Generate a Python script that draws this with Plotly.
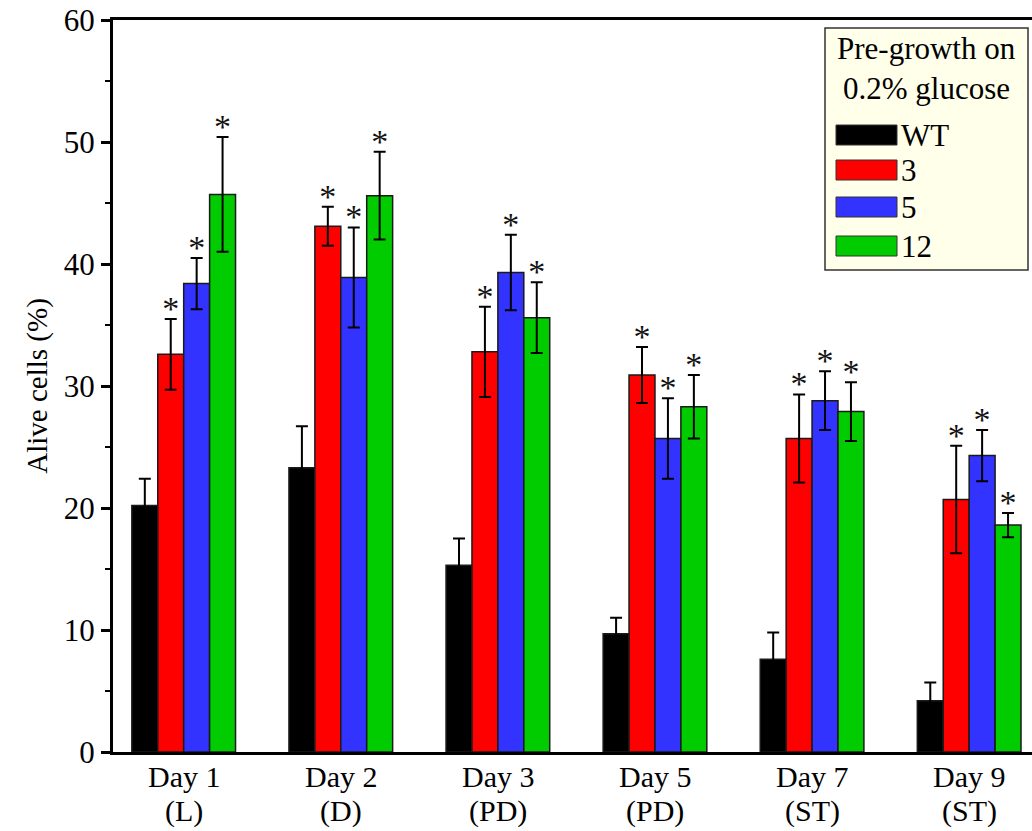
import plotly.graph_objects as go

days = ["Day 1", "Day 2", "Day 3", "Day 5", "Day 7", "Day 9"]
phases = ["(L)", "(D)", "(PD)", "(PD)", "(ST)", "(ST)"]
series_names = ["WT", "3", "5", "12"]
colors = ["#000000", "#FF0000", "#3333FF", "#00CC00"]

wt = [20.2, 23.3, 15.3, 9.7, 7.6, 4.2]
s3 = [32.6, 43.1, 32.8, 30.9, 25.7, 20.7]
s5 = [38.4, 38.9, 39.3, 25.7, 28.8, 24.3]
s12 = [45.7, 45.6, 35.6, 28.3, 27.9, 18.6]

wt_err = [2.2, 3.4, 2.2, 1.3, 2.2, 1.5]
s3_err = [2.9, 1.6, 3.7, 2.3, 3.6, 4.4]
s5_err = [2.1, 4.1, 3.1, 3.3, 2.4, 2.1]
s12_err = [4.7, 3.6, 2.9, 2.6, 2.4, 1.0]

signif = [False, True, True, True]

values = [wt, s3, s5, s12]
errors = [wt_err, s3_err, s5_err, s12_err]

FONT = "Liberation Serif"
Y_RANGE = [0, 60]
STAR_SHIFT = 0.77  # visual offset of the asterisk layer (axis units)

fig = go.Figure()

for name, col, vals, errs in zip(series_names, colors, values, errors):
    fig.add_trace(go.Bar(
        x=days, y=vals, name=name, offsetgroup=name,
        marker=dict(color=col, line=dict(color="#1a1a1a", width=1.5)),
        error_y=dict(type="data", array=errs, visible=True, color="black",
                     thickness=2, width=6),
        showlegend=False,
    ))

for name, vals, errs, sig in zip(series_names, values, errors, signif):
    fig.add_trace(go.Scatter(
        x=days, y=[v + e for v, e in zip(vals, errs)], offsetgroup=name,
        yaxis="y2",
        mode="text", text=["*" if sig else "" for _ in vals],
        textposition="top center",
        textfont=dict(family=FONT, size=34, color="#111111"),
        showlegend=False, hoverinfo="skip",
    ))

W, H = 1032, 831
L, T, B = 113, 20, 79
pw, ph = W - L, H - T - B

def px_x(x):
    return (x - L) / pw

def px_y(y):
    return (H - B - y) / ph

shapes = []
annotations = []
# legend box
shapes.append(dict(type="rect", xref="paper", yref="paper",
                   x0=px_x(825), x1=px_x(1028), y0=px_y(270), y1=px_y(28),
                   fillcolor="#FFFFEA", line=dict(color="#333333", width=1.5)))
annotations.append(dict(xref="paper", yref="paper", x=px_x(926), y=px_y(48),
                        text="Pre-growth on", showarrow=False, xanchor="center",
                        yanchor="middle", font=dict(family=FONT, size=31, color="black")))
annotations.append(dict(xref="paper", yref="paper", x=px_x(926), y=px_y(88),
                        text="0.2% glucose", showarrow=False, xanchor="center",
                        yanchor="middle", font=dict(family=FONT, size=31, color="black")))
ys = [135, 170, 207, 246]
for name, col, yc in zip(series_names, colors, ys):
    shapes.append(dict(type="rect", xref="paper", yref="paper",
                       x0=px_x(836), x1=px_x(897), y0=px_y(yc + 10), y1=px_y(yc - 10),
                       fillcolor=col, line=dict(color="#333333", width=1)))
    annotations.append(dict(xref="paper", yref="paper", x=px_x(899), y=px_y(yc),
                            text=name, showarrow=False, xanchor="left", yanchor="middle",
                            font=dict(family=FONT, size=31, color="black")))

for d, p in zip(days, phases):
    annotations.append(dict(xref="x", yref="paper", x=d, y=px_y(776), text=d,
                            showarrow=False, xanchor="center", yanchor="middle",
                            font=dict(family=FONT, size=30, color="black")))
    annotations.append(dict(xref="x", yref="paper", x=d, y=px_y(811), text=p,
                            showarrow=False, xanchor="center", yanchor="middle",
                            font=dict(family=FONT, size=30, color="black")))

fig.update_layout(
    width=W, height=H,
    margin=dict(l=L, r=0, t=T, b=B, autoexpand=False),
    plot_bgcolor="white", paper_bgcolor="white",
    barmode="group", bargap=0.34, bargroupgap=0,
    scattermode="group", scattergap=0.34,
    shapes=shapes, annotations=annotations,
    font=dict(family=FONT, color="black"),
    yaxis2=dict(overlaying="y", range=[Y_RANGE[0] + STAR_SHIFT, Y_RANGE[1] + STAR_SHIFT],
                visible=False, showgrid=False, zeroline=False),
)
fig.update_xaxes(
    range=[-0.45, 5.40], showline=True, linecolor="black", linewidth=3,
    mirror=True, ticks="", showgrid=False, zeroline=False, showticklabels=False,
)
fig.update_yaxes(
    selector=dict(overlaying=None),
)
fig.layout.yaxis.update(
    range=Y_RANGE, dtick=10, showline=True, linecolor="black", linewidth=3,
    ticks="outside", ticklen=9, tickwidth=2.5, tickcolor="black",
    minor=dict(dtick=5, ticks="outside", ticklen=5, tickwidth=2, tickcolor="black", showgrid=False),
    showgrid=False, zeroline=False,
    tickfont=dict(family=FONT, size=31, color="black"),
    title=dict(text="Alive cells (%)", font=dict(family=FONT, size=29, color="black"), standoff=8),
)

fig.write_html("out.html")
